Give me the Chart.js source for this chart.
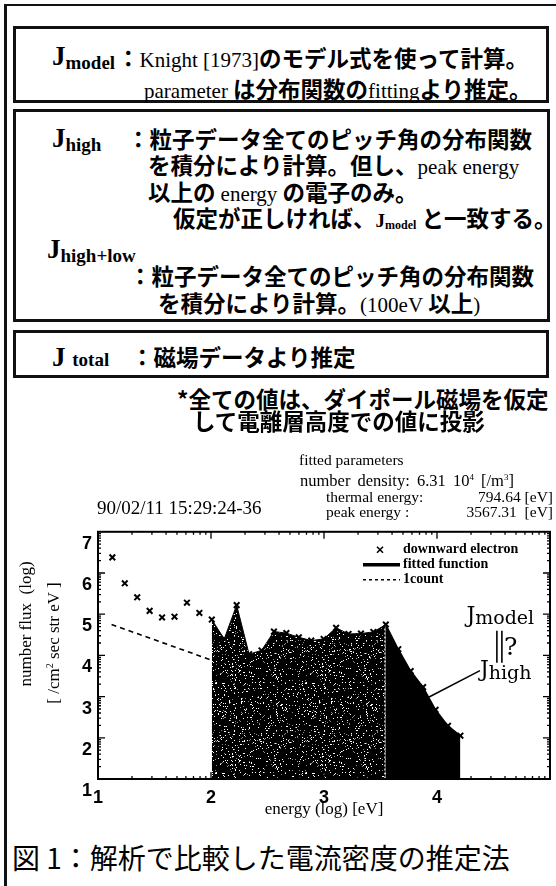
<!DOCTYPE html>
<html>
<head>
<meta charset="utf-8">
<script src="https://cdn.jsdelivr.net/npm/chart.js@4.4.1/dist/chart.umd.min.js"></script>
<style>
  body { margin: 0; background: #fff; }
  #page { position: relative; width: 556px; height: 886px; overflow: hidden; background: #fff; color: #000; }
  .frame { position: absolute; left: 4px; top: 4px; width: 600px; height: 900px; border-top: 2px solid #111; border-left: 3px solid #111; }
  .box { position: absolute; border: 3px solid #111; box-sizing: border-box; }
  .row { position: absolute; white-space: nowrap; height: 30px; line-height: 30px; font-family: "Noto Sans CJK JP"; font-weight: 700; font-size: 22.5px; z-index: 2; }
  .r { font-family: "Liberation Serif"; font-weight: 400; font-size: 21px; }
  .J { font-family: "Liberation Serif"; font-weight: 700; font-size: 27px; }
  .J .sb { font-size: 19px; position: relative; top: 4px; }
  .Js { font-family: "Liberation Serif"; font-weight: 700; font-size: 19px; }
  .Js .sb { font-size: 12px; position: relative; top: 2px; }
  .t { position: absolute; white-space: nowrap; font-family: "Liberation Serif"; font-size: 15.5px; line-height: 18px; height: 18px; z-index: 2; }
  .t sup { font-size: 9px; vertical-align: 6px; line-height: 0; }
  .yt { position: absolute; white-space: nowrap; font-family: "Liberation Serif"; font-size: 17px; transform: translate(-50%, -50%) rotate(-90deg); z-index: 2; }
  .yt sup { font-size: 10px; vertical-align: 6px; line-height: 0; }
  #wrap { position: absolute; left: 0; top: 515px; width: 556px; height: 315px; z-index: 1; }
  .cap { position: absolute; left: 12px; top: 838px; white-space: nowrap; font-family: "Noto Sans CJK JP"; font-weight: 400; font-size: 28px; line-height: 38px; }
</style>
</head>
<body>
<div id="page">
  <div class="frame"></div>

  <div class="box" style="left:13px; top:26px; width:536px; height:77px"></div>
  <div class="box" style="left:13px; top:109px; width:537px; height:213px"></div>
  <div class="box" style="left:13px; top:330px; width:536px; height:48px"></div>

  <div class="row" style="left:52px; top:40px"><span class="J">J<span class="sb">model</span></span></div>
  <div class="row" style="left:117px; top:42px">：<span class="r">Knight [1973]</span>のモデル式を使って計算。</div>
  <div class="row" style="left:144px; top:73px"><span class="r">parameter</span> は分布関数の<span class="r">fitting</span>より推定。</div>

  <div class="row" style="left:52px; top:122px"><span class="J">J<span class="sb">high</span></span></div>
  <div class="row" style="left:127px; top:123px">：粒子データ全てのピッチ角の分布関数</div>
  <div class="row" style="left:148px; top:149px">を積分により計算。但し、<span class="r">peak energy</span></div>
  <div class="row" style="left:148px; top:176px">以上の <span class="r">energy</span> の電子のみ。</div>
  <div class="row" style="left:173px; top:202px">仮定が正しければ、<span class="Js">J<span class="sb">model</span></span> と一致する。</div>
  <div class="row" style="left:47px; top:233px"><span class="J">J<span class="sb">high+low</span></span></div>
  <div class="row" style="left:129px; top:260px">：粒子データ全てのピッチ角の分布関数</div>
  <div class="row" style="left:158px; top:287px">を積分により計算。<span class="r">(100eV</span> 以上<span class="r">)</span></div>

  <div class="row" style="left:52px; top:341px"><span class="J">J <span class="sb" style="top:0">total</span></span></div>
  <div class="row" style="left:131px; top:341px">：磁場データより推定</div>

  <div class="row" style="left:177px; top:383px">*全ての値は、ダイポール磁場を仮定</div>
  <div class="row" style="left:193px; top:405px">して電離層高度での値に投影</div>

  <div class="t" style="left:299px; top:451px">fitted parameters</div>
  <div class="t" style="left:300px; top:472px; font-size:16.5px; word-spacing:3px">number density: 6.31 10<sup>4</sup> [/m<sup>3</sup>]</div>
  <div class="t" style="left:326px; top:488px">thermal energy:</div>
  <div class="t" style="right:3px; top:488px">794.64 [eV]</div>
  <div class="t" style="left:326px; top:503px">peak energy :</div>
  <div class="t" style="right:3px; top:503px">3567.31&nbsp; [eV]</div>
  <div class="t" style="left:97px; top:499px; font-size:19px">90/02/11 15:29:24-36</div>

  <div class="yt" style="left:26px; top:624px">number flux&nbsp; (log)</div>
  <div class="yt" style="left:54px; top:643px">[ /cm<sup>2</sup> sec str eV ]</div>

  <div id="wrap"><canvas id="myChart" width="556" height="315"></canvas></div>

  <div class="cap">図 1：解析で比較した電流密度の推定法</div>
</div>

<script>
// energy bins, log10(eV)
var energy = [1.127, 1.237, 1.347, 1.457, 1.567, 1.677, 1.787, 1.897, 2.007, 2.117,
              2.227, 2.337, 2.447, 2.557, 2.667, 2.777, 2.887, 2.997, 3.107, 3.217,
              3.327, 3.437, 3.547, 3.657, 3.767, 3.877, 3.987, 4.097, 4.207]
// downward electron number flux, log10
var flux = [6.38, 5.75, 5.41, 5.08, 4.92, 4.94, 5.28, 5.03, 4.87, 4.40,
            5.22, 4.03, 4.12, 4.58, 4.54, 4.44, 4.36, 4.40, 4.67, 4.52,
            4.53, 4.57, 4.75, 4.15, 3.62, 3.23, 2.68, 2.29, 2.05]
// 1 count level
var countEnergy = [1.12, 2.0]
var countFlux = [4.75, 3.89]

var lowIndex = 8    // first bin above 100 eV
var peakIndex = 22  // peak energy bin (3567 eV)

var xTicks = [1, 2, 3, 4]
var yTicks = [1, 2, 3, 4, 5, 6, 7]

// where the J labels sit, in data units
var jModelAt = [4.26, 4.80]
var barsAt = [4.53, 4.60, 3.82]
var jHighAt = [4.38, 3.51]
var leader = [3.93, 2.99, 4.38, 3.63]

function pts(xs, ys) {
  return xs.map(function (v, i) { return { x: v, y: ys[i] } })
}

function speckle() {
  var c = document.createElement("canvas")
  c.width = 90; c.height = 90
  var g = c.getContext("2d")
  g.fillStyle = "#000"
  g.fillRect(0, 0, 90, 90)
  var s = 12345
  for (var i = 0; i < 760; i++) {
    s = (s * 16807) % 2147483647
    var x = s % 90
    s = (s * 16807) % 2147483647
    var y = s % 90
    g.fillStyle = (i % 3 == 0) ? "#8a8a8a" : "#fff"
    g.fillRect(x, y, 1, 1)
  }
  return g.createPattern(c, "repeat")
}

var all = pts(energy, flux)

var axisBox = {
  id: "axisBox",
  afterDatasetsDraw: function (chart) {
    var ctx = chart.ctx, a = chart.chartArea
    var sx = chart.scales.x, sy = chart.scales.y
    ctx.save()
    // white dotted border between data area and fitted area
    var px = sx.getPixelForValue(energy[peakIndex])
    ctx.strokeStyle = "#fff"
    ctx.lineWidth = 1
    ctx.setLineDash([2, 2])
    ctx.beginPath()
    ctx.moveTo(px - 1, sy.getPixelForValue(flux[peakIndex]) + 4)
    ctx.lineTo(px - 1, a.bottom)
    ctx.stroke()
    ctx.setLineDash([])

    ctx.strokeStyle = "#000"
    ctx.lineWidth = 1.3
    ctx.beginPath()
    for (var d = 1; d < 5; d++) {
      for (var k = 1; k < 10; k++) {
        var p = sx.getPixelForValue(d + Math.log10(k))
        var len = k == 1 ? 7 : 3
        ctx.moveTo(p, a.bottom); ctx.lineTo(p, a.bottom - len)
        ctx.moveTo(p, a.top); ctx.lineTo(p, a.top + len)
      }
    }
    for (d = 1; d < 7; d++) {
      for (k = 1; k < 10; k++) {
        p = sy.getPixelForValue(d + Math.log10(k))
        len = k == 1 ? 7 : 3
        ctx.moveTo(a.left, p); ctx.lineTo(a.left + len, p)
        ctx.moveTo(a.right, p); ctx.lineTo(a.right - len, p)
      }
    }
    ctx.stroke()
    ctx.lineWidth = 2
    ctx.strokeRect(a.left, a.top, a.right - a.left, a.bottom - a.top)

    // legend
    var lx = a.right - 187, tx = a.right - 147, ty = a.top + 18
    ctx.fillStyle = "#000"
    ctx.font = "bold 14px 'Liberation Serif'"
    ctx.textBaseline = "middle"
    var ds = chart.data.datasets
    ctx.lineWidth = 1.6
    ctx.beginPath()
    ctx.moveTo(a.right - 173, ty - 3); ctx.lineTo(a.right - 167, ty + 3)
    ctx.moveTo(a.right - 173, ty + 3); ctx.lineTo(a.right - 167, ty - 3)
    ctx.stroke()
    ctx.fillText(ds[3].label, tx, ty)
    ctx.lineWidth = 3.5
    ctx.beginPath(); ctx.moveTo(lx, ty + 15); ctx.lineTo(lx + 37, ty + 15); ctx.stroke()
    ctx.fillText(ds[1].label, tx, ty + 15)
    ctx.lineWidth = 1.5
    ctx.setLineDash([3, 3])
    ctx.beginPath(); ctx.moveTo(lx, ty + 30); ctx.lineTo(lx + 37, ty + 30); ctx.stroke()
    ctx.setLineDash([])
    ctx.fillText(ds[2].label, tx, ty + 30)

    // J_model || ? J_high
    ctx.textBaseline = "alphabetic"
    var x0 = sx.getPixelForValue(jModelAt[0]), y0 = sy.getPixelForValue(jModelAt[1])
    ctx.font = "22px 'DejaVu Serif'"
    ctx.fillText("J", x0, y0)
    var w = ctx.measureText("J").width
    ctx.font = "19px 'DejaVu Serif'"
    ctx.fillText("model", x0 + w, y0 + 2)

    var bx = sx.getPixelForValue(barsAt[0])
    ctx.lineWidth = 1.6
    ctx.beginPath()
    ctx.moveTo(bx, sy.getPixelForValue(barsAt[1])); ctx.lineTo(bx, sy.getPixelForValue(barsAt[2]))
    ctx.moveTo(bx + 5, sy.getPixelForValue(barsAt[1])); ctx.lineTo(bx + 5, sy.getPixelForValue(barsAt[2]))
    ctx.stroke()
    ctx.font = "25px 'DejaVu Serif'"
    ctx.fillText("?", bx + 7, sy.getPixelForValue(barsAt[1]) + 24)

    var x1 = sx.getPixelForValue(jHighAt[0]), y1 = sy.getPixelForValue(jHighAt[1])
    ctx.font = "22px 'DejaVu Serif'"
    ctx.fillText("J", x1, y1)
    w = ctx.measureText("J").width
    ctx.font = "19px 'DejaVu Serif'"
    ctx.fillText("high", x1 + w, y1 + 3)

    ctx.lineWidth = 1.5
    ctx.beginPath()
    ctx.moveTo(sx.getPixelForValue(leader[0]), sy.getPixelForValue(leader[1]))
    ctx.lineTo(sx.getPixelForValue(leader[2]), sy.getPixelForValue(leader[3]))
    ctx.stroke()
    ctx.restore()
  }
}

var tickFont = { family: "Liberation Sans", weight: "bold", size: 18 }

new Chart("myChart", {
  type: "line",
  data: {
    datasets: [{
      label: "above 100 eV",
      data: all.slice(lowIndex, peakIndex + 1),
      fill: "start",
      backgroundColor: speckle(),
      borderColor: "#000",
      borderWidth: 1,
      pointRadius: 0,
      order: 3
    }, {
      label: "fitted function",
      data: all.slice(peakIndex),
      fill: "start",
      backgroundColor: "#000",
      borderColor: "#000",
      borderWidth: 1.5,
      pointRadius: 0,
      order: 2
    }, {
      label: "1count",
      data: pts(countEnergy, countFlux),
      fill: false,
      borderColor: "#000",
      borderWidth: 1.6,
      borderDash: [5, 4],
      pointRadius: 0,
      order: 1
    }, {
      label: "downward electron",
      data: all,
      showLine: false,
      pointStyle: "crossRot",
      pointRadius: 4,
      borderColor: "#000",
      backgroundColor: "#000",
      pointBorderWidth: 2,
      order: 0
    }]
  },
  options: {
    responsive: false,
    animation: false,
    layout: { padding: { left: 0, right: 6, top: 11, bottom: 0 } },
    plugins: { legend: { display: false }, tooltip: { enabled: false } },
    scales: {
      x: {
        type: "linear", min: 1, max: 5,
        afterBuildTicks: function (s) { s.ticks = xTicks.map(function (v) { return { value: v } }) },
        afterFit: function (s) { s.height = 51 },
        grid: { display: false, drawTicks: false },
        border: { display: false },
        ticks: { padding: 8, color: "#000", font: tickFont, maxRotation: 0, autoSkip: false },
        title: { display: true, text: "energy (log) [eV]", color: "#000",
                 font: { family: "Liberation Serif", size: 17 }, padding: { top: 0, bottom: 10 } }
      },
      y: {
        type: "linear", min: 1, max: 7,
        afterBuildTicks: function (s) { s.ticks = yTicks.map(function (v) { return { value: v } }) },
        afterFit: function (s) { s.width = 98 },
        grid: { display: false, drawTicks: false },
        border: { display: false },
        ticks: { padding: 6, labelOffset: 12, color: "#000", font: tickFont, autoSkip: false }
      }
    }
  },
  plugins: [axisBox]
})
</script>
</body>
</html>
